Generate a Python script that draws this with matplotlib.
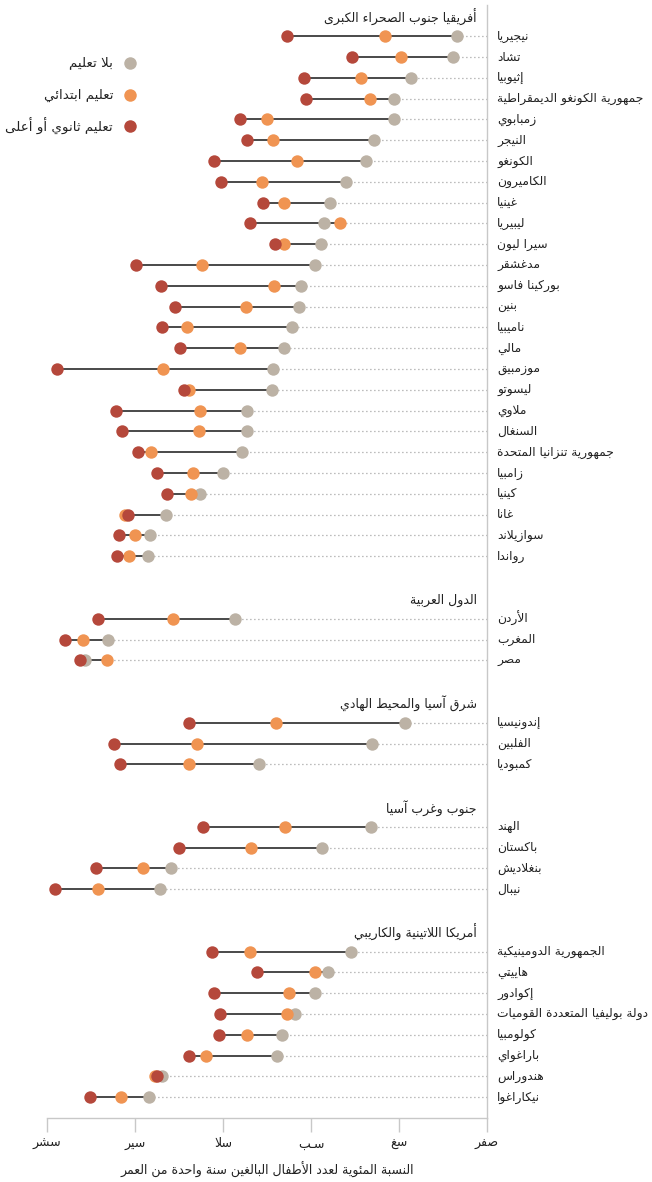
import matplotlib.pyplot as plt
from matplotlib.lines import Line2D

# --- data -------------------------------------------------------------
regions = ["أفريقيا جنوب الصحراء الكبرى", "الدول العربية", "شرق آسيا والمحيط الهادي",
           "جنوب وغرب آسيا", "أمريكا اللاتينية والكاريبي"]

countries = [
    # sub-saharan africa
    "نيجيريا", "تشاد", "إثيوبيا", "جمهورية الكونغو الديمقراطية", "زمبابوي", "النيجر",
    "الكونغو", "الكاميرون", "غينيا", "ليبيريا", "سيرا ليون", "مدغشقر", "بوركينا فاسو",
    "بنين", "ناميبيا", "مالي", "موزمبيق", "ليسوتو", "ملاوي", "السنغال",
    "جمهورية تنزانيا المتحدة", "زامبيا", "كينيا", "غانا", "سوازيلاند", "رواندا",
    # arab states
    "الأردن", "المغرب", "مصر",
    # east asia
    "إندونيسيا", "الفلبين", "كمبوديا",
    # south/west asia
    "الهند", "باكستان", "بنغلاديش", "نيبال",
    # latin america
    "الجمهورية الدومينيكية", "هاييتي", "إكوادور", "دولة بوليفيا المتعددة القوميات",
    "كولومبيا", "باراغواي", "هندوراس", "نيكاراغوا",
]
country_region = [0] * 26 + [1] * 3 + [2] * 3 + [3] * 4 + [4] * 8

no_education = [6.8, 7.8, 17.3, 21.1, 21.1, 25.7, 27.4, 32.0, 35.6, 37.0, 37.7, 39.2, 42.2,
                42.8, 44.4, 46.1, 48.7, 48.9, 54.5, 54.5, 55.7, 60.0, 65.3, 73.0, 76.5, 77.1,
                57.3, 86.1, 91.4,
                18.7, 26.1, 51.9,
                26.3, 37.5, 71.8, 74.4,
                30.8, 36.1, 39.0, 43.7, 46.6, 47.7, 73.8, 76.8]
primary = [23.2, 19.5, 28.7, 26.7, 50.1, 48.6, 43.1, 51.1, 46.1, 33.3, 46.1, 64.7, 48.5,
           54.7, 68.2, 56.1, 73.6, 67.7, 65.2, 65.5, 76.4, 66.9, 67.3, 82.3, 80.0, 81.4,
           71.4, 91.8, 86.4,
           48.0, 66.0, 67.7,
           45.8, 53.6, 78.1, 88.3,
           53.9, 39.1, 45.1, 45.5, 54.6, 63.9, 75.5, 83.2]
secondary = [45.4, 30.6, 41.6, 41.2, 56.2, 54.5, 62.0, 60.5, 50.8, 53.9, 48.1, 79.8, 74.1,
             71.0, 73.9, 69.7, 97.7, 68.8, 84.3, 83.0, 79.3, 75.1, 72.7, 81.6, 83.7, 84.0,
             88.3, 95.9, 92.4,
             67.7, 84.8, 83.3,
             64.5, 69.9, 88.9, 98.1,
             62.5, 52.3, 62.1, 60.7, 60.8, 67.8, 75.0, 90.2]

x_ticks = [0, 20, 40, 60, 80, 100]
x_tick_labels = ["صفر", "سغ", "سـب", "سلا", "سير", "سشر"]
x_label = "النسبة المئوية لعدد الأطفال البالغين سنة واحدة من العمر"
legend_labels = ["بلا تعليم", "تعليم ابتدائي", "تعليم ثانوي أو أعلى"]

# --- arabic shaping (matplotlib has no complex text layout) -----------
FORMS4 = {'ئ': 0xFE89, 'ب': 0xFE8F, 'ت': 0xFE95, 'ث': 0xFE99, 'ج': 0xFE9D, 'ح': 0xFEA1,
          'خ': 0xFEA5, 'س': 0xFEB1, 'ش': 0xFEB5, 'ص': 0xFEB9, 'ض': 0xFEBD, 'ط': 0xFEC1,
          'ظ': 0xFEC5, 'ع': 0xFEC9, 'غ': 0xFECD, 'ف': 0xFED1, 'ق': 0xFED5, 'ك': 0xFED9,
          'ل': 0xFEDD, 'م': 0xFEE1, 'ن': 0xFEE5, 'ه': 0xFEE9, 'ي': 0xFEF1}
FORMS2 = {'آ': 0xFE81, 'أ': 0xFE83, 'ؤ': 0xFE85, 'إ': 0xFE87, 'ا': 0xFE8D, 'ة': 0xFE93,
          'د': 0xFEA9, 'ذ': 0xFEAB, 'ر': 0xFEAD, 'ز': 0xFEAF, 'و': 0xFEED, 'ى': 0xFEEF}
LAM_ALEF = {'آ': 0xFEF5, 'أ': 0xFEF7, 'إ': 0xFEF9, 'ا': 0xFEFB}
TATWEEL = 'ـ'


def shape_ar(text):
    tokens = []
    i = 0
    while i < len(text):
        c = text[i]
        if c == 'ل' and i + 1 < len(text) and text[i + 1] in LAM_ALEF:
            tokens.append(("LA", text[i + 1]))
            i += 2
        else:
            tokens.append(("C", c))
            i += 1

    def joins_next(tok):
        return tok[0] == "C" and (tok[1] in FORMS4 or tok[1] == TATWEEL)

    def joins_prev(tok):
        return tok[0] == "LA" or tok[1] in FORMS4 or tok[1] in FORMS2 or tok[1] == TATWEEL

    out = []
    for k, tok in enumerate(tokens):
        kind, c = tok
        prev = k > 0 and joins_next(tokens[k - 1]) and joins_prev(tok)
        nxt = k + 1 < len(tokens) and joins_next(tok) and joins_prev(tokens[k + 1])
        if kind == "LA":
            out.append(chr(LAM_ALEF[c] + (1 if prev else 0)))
        elif c in FORMS4:
            off = 3 if (prev and nxt) else 1 if prev else 2 if nxt else 0
            out.append(chr(FORMS4[c] + off))
        elif c in FORMS2:
            out.append(chr(FORMS2[c] + (1 if prev else 0)))
        else:
            out.append(c)
    return "".join(reversed(out))


# --- layout -----------------------------------------------------------
plt.rcParams["font.family"] = ["DejaVu Sans"]

GREY = "#bcb2a5"
ORANGE = "#f09452"
RED = "#b5483b"
TEXT = "#222222"
AXIS = "#c8c8c8"

fig = plt.figure(figsize=(6.52, 11.82), dpi=100)
W, H = 652, 1182
ax = fig.add_axes([47 / W, (H - 1118) / H, 440 / W, (1118 - 5) / H])

# row positions: a header row per region, a blank row between regions
rows = []
header_rows = []
pos = 0
for r in range(len(regions)):
    header_rows.append(pos)
    pos += 1
    for ci, cr in enumerate(country_region):
        if cr == r:
            rows.append(pos)
            pos += 1
    pos += 1

for i, name in enumerate(countries):
    y = rows[i]
    vals = [no_education[i], primary[i], secondary[i]]
    lo, hi = min(vals), max(vals)
    ax.plot([0, lo], [y, y], color="#a8a8a8", lw=0.9, ls=(0, (1, 2.2)), zorder=1)
    ax.plot([lo, hi], [y, y], color="#3a3a3a", lw=1.3, zorder=2, solid_capstyle="butt")
    ax.text(-2.3, y, shape_ar(name), ha="left", va="center", fontsize=8.8, color=TEXT)

ax.scatter(no_education, rows, s=80, color=GREY, zorder=3, linewidths=0)
ax.scatter(primary, rows, s=80, color=ORANGE, zorder=4, linewidths=0)
ax.scatter(secondary, rows, s=80, color=RED, zorder=5, linewidths=0)

for r, name in enumerate(regions):
    ax.text(2.3, header_rows[r] + 0.1, shape_ar(name), ha="right", va="center",
            fontsize=9, color=TEXT)

ax.set_xlim(100, 0)
ax.set_ylim(pos - 1, -0.5)
ax.set_yticks([])
ax.set_xticks(x_ticks)
ax.set_xticklabels([shape_ar(t) for t in x_tick_labels], fontsize=9, color=TEXT)
ax.tick_params(axis="x", length=10, width=1, color=AXIS, pad=4)
ax.set_xlabel(shape_ar(x_label), fontsize=9, color=TEXT, labelpad=8)

for side in ["top", "left"]:
    ax.spines[side].set_visible(False)
for side in ["bottom", "right"]:
    ax.spines[side].set_color(AXIS)
    ax.spines[side].set_linewidth(1)

# legend drawn by hand at the top left
legend_y = [63, 95, 126]
for color, label, ly in zip([GREY, ORANGE, RED], legend_labels, legend_y):
    fig.add_artist(Line2D([130 / W], [(H - ly) / H], marker="o", markersize=9,
                          color=color, markeredgewidth=0, ls="none"))
    fig.text(113 / W, (H - ly) / H, shape_ar(label), ha="right", va="center",
             fontsize=9.7, color=TEXT)

fig.savefig("out.png", dpi=100)
